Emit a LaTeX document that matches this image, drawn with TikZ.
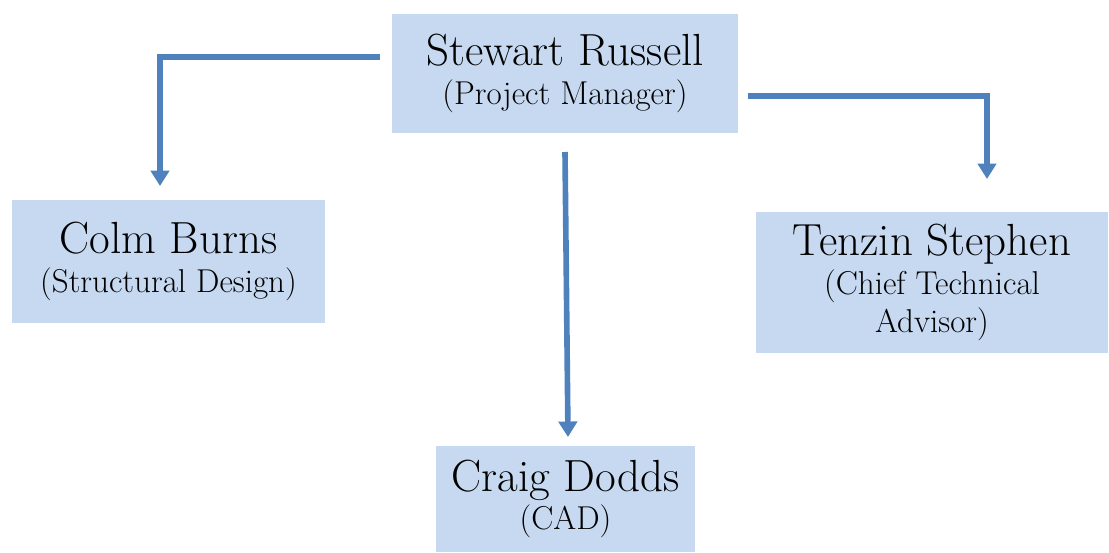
\documentclass[tikz,border=0pt]{standalone}
\usetikzlibrary{arrows.meta,positioning}
\definecolor{boxblue}{RGB}{198,217,240}
\definecolor{linkblue}{RGB}{79,129,189}

\begin{document}
\begin{tikzpicture}[x=0.025cm,y=-0.025cm,
  person/.style={fill=boxblue,align=center,inner sep=0pt,
    font=\fontsize{23.5}{27.5}\selectfont},
  link/.style={draw=linkblue,line width=4pt,
    -{Triangle[width=13pt,length=11pt]}}]
  \useasboundingbox (0,0) rectangle (1109,552);

  \node[person,minimum width=8.65cm,minimum height=2.975cm] (sr) at (565,73.5)
    {{\fontsize{32}{32}\selectfont Stewart Russell}\\(Project Manager)};
  \node[person,minimum width=7.825cm,minimum height=3.075cm] (cb) at (168.5,261.5)
    {{\fontsize{32}{32}\selectfont Colm Burns}\\(Structural Design)};
  \node[person,minimum width=8.8cm,minimum height=3.525cm] (ts) at (932,282.5)
    {{\fontsize{32}{32}\selectfont Tenzin Stephen}\\(Chief Technical\\Advisor)};
  \node[person,minimum width=6.475cm,minimum height=2.65cm] (cd) at (565.5,499)
    {{\fontsize{32}{32}\selectfont Craig Dodds}\\(CAD)};

  % loose ends of the arrows
  \coordinate (sr-left) at (380,57);
  \coordinate (sr-down) at (565,152);
  \coordinate (sr-right) at (748,96);
  \coordinate (cb-in) at (160,186);
  \coordinate (cd-in) at (568,437);
  \coordinate (ts-in) at (987,179);

  \draw[link] (sr-left) -| (cb-in);
  \draw[link] (sr-down) -- (cd-in);
  \draw[link] (sr-right) -| (ts-in);
\end{tikzpicture}
\end{document}
